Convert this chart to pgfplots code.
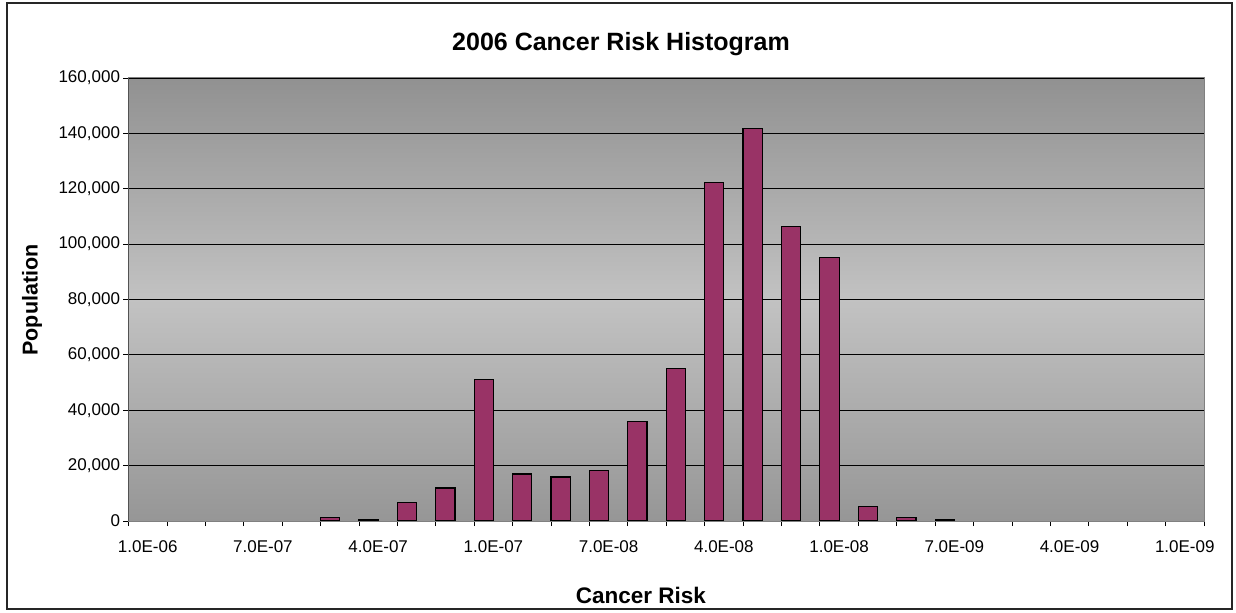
\documentclass[border=0pt]{standalone}
\usepackage{pgfplots}
\pgfplotsset{compat=1.18}
\usepackage{pgfplotstable}
\usepackage{fontspec}
\setmainfont{Liberation Sans}

\definecolor{barfill}{RGB}{153,51,102}
\definecolor{bgtop}{RGB}{145,145,145}
\definecolor{bgmid}{RGB}{194,194,194}
\definecolor{bgbot}{RGB}{150,150,150}

% Population per cancer-risk bin, bins 0..27 run from 1.0E-06 down to 1.0E-09
% (1.0E-06, 9.0E-07, ..., 1.0E-07, 9.0E-08, ..., 1.0E-08, 9.0E-09, ..., 1.0E-09);
% bins with no population (0-4 and 22-27) are left out
\pgfplotstableread{
idx pop
5   1200
6   500
7   6800
8   11900
9   51200
10  17000
11  15900
12  18200
13  35900
14  55200
15  122300
16  141800
17  106500
18  95100
19  5200
20  1200
21  600
}\riskdata

\begin{document}
\begin{tikzpicture}
\useasboundingbox (0,0) rectangle (1236bp,613bp);
\draw[line width=1.5bp, black!85] (7bp,4bp) rectangle (1232bp,610bp);
\begin{axis}[
  at={(128.5bp,92bp)}, anchor=south west,
  scale only axis, width=1075.5bp, height=443bp,
  xmin=0, xmax=28, ymin=0, ymax=160000,
  xtick={0,...,28},
  x tick label as interval,
  xticklabels={1.0E-06,,,7.0E-07,,,4.0E-07,,,1.0E-07,,,7.0E-08,,,4.0E-08,,,1.0E-08,,,7.0E-09,,,4.0E-09,,,1.0E-09},
  ytick={0,20000,...,160000},
  scaled y ticks=false,
  /pgf/number format/fixed,
  /pgf/number format/1000 sep={,},
  /pgf/number format/assume math mode=true,
  xtick pos=bottom, ytick pos=left,
  tick align=outside, major tick length=5bp,
  tick style={black, line width=0.8bp},
  ticklabel style={font=\fontsize{17bp}{20bp}\selectfont},
  xticklabel style={yshift=-11bp},
  ymajorgrids,
  major grid style={black, line width=0.8bp},
  axis line style={draw=gray, line width=1bp},
  axis background/.style={shade, top color=bgtop, bottom color=bgbot, middle color=bgmid},
  title={2006 Cancer Risk Histogram},
  title style={font=\fontsize{25bp}{29bp}\selectfont\bfseries, at={(axis description cs:0.458,1.064)}, anchor=center},
  xlabel={Cancer Risk},
  xlabel style={font=\fontsize{22.5bp}{26bp}\selectfont\bfseries, at={(axis description cs:0.4765,-0.169)}, anchor=center},
  ylabel={Population},
  ylabel style={font=\fontsize{21.5bp}{25bp}\selectfont\bfseries, at={(axis description cs:-0.0897,0.499)}, anchor=center},
]
\addplot[ybar, bar width=0.5, fill=barfill, draw=black, line width=1.2bp]
  table[x expr=\thisrow{idx}+0.25, y=pop] {\riskdata};
\draw[black, line width=1bp] (rel axis cs:0,1) -- (rel axis cs:0,0) -- (rel axis cs:1,0);
\end{axis}
\end{tikzpicture}
\end{document}
